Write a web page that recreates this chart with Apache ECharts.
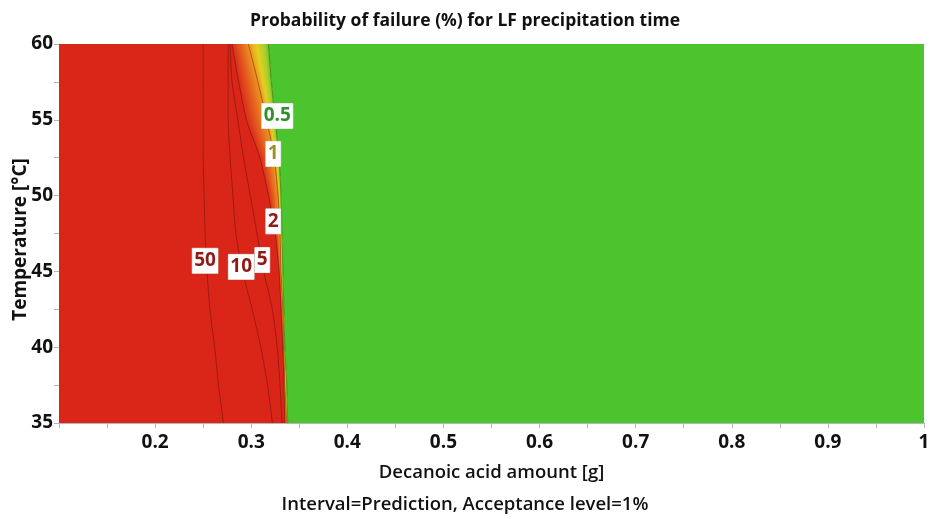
<!DOCTYPE html>
<html>
<head>
<meta charset="utf-8">
<script src="https://cdn.jsdelivr.net/npm/echarts@6/dist/echarts.min.js"></script>
<style>
html, body { margin: 0; padding: 0; background: #ffffff; }
#chart { width: 930px; height: 519px; }
</style>
</head>
<body>
<div id="chart"></div>
<script>
// Temperatures (°C) at which each contour of the failure probability is traced
const temperatures = [35, 37.5, 40, 42.5, 45, 47.5, 50, 52.5, 55, 57.5, 60];

// Decanoic acid amount (g) where the probability of failure equals each level
const contour50 = [0.271, 0.266, 0.262, 0.257, 0.254, 0.252, 0.251, 0.250, 0.250, 0.250, 0.250];
const contour10 = [0.322, 0.317, 0.310, 0.301, 0.291, 0.284, 0.281, 0.278, 0.276, 0.276, 0.276];
const contour5  = [0.332, 0.330, 0.327, 0.322, 0.313, 0.306, 0.299, 0.292, 0.286, 0.280, 0.278];
const contour2  = [0.335, 0.334, 0.333, 0.331, 0.329, 0.325, 0.318, 0.309, 0.295, 0.287, 0.280];
const contour1  = [0.337, 0.335, 0.334, 0.333, 0.331, 0.330, 0.328, 0.324, 0.316, 0.307, 0.297];
const contour05 = [0.338, 0.337, 0.335, 0.334, 0.333, 0.332, 0.331, 0.329, 0.325, 0.321, 0.318];

const levels = [50, 10, 5, 2, 1, 0.5];
const contours = [contour50, contour10, contour5, contour2, contour1, contour05];

// Where each level's value is printed along its contour: [amount, temperature]
const levelLabelAt = [[0.252, 45.7], [0.2896, 45.3], [0.3115, 45.75], [0.3229, 48.3], [0.3229, 52.75], [0.3271, 55.25]];

// Axis ticks
const xTickLabels = [0.2, 0.3, 0.4, 0.5, 0.6, 0.7, 0.8, 0.9, 1];
const yTickLabels = [35, 40, 45, 50, 55, 60];

const X_MIN = 0.1, X_MAX = 1, Y_MIN = 35, Y_MAX = 60;
const FONT = "'Open Sans', 'Noto Sans', sans-serif";

const RED = '#da2619';
const GREEN = '#4cc42e';

// colour ramp used inside a band, t in [0,1]
function rampColor(stops, t) {
  for (let i = 0; i < stops.length - 1; i++) {
    const a = stops[i], b = stops[i + 1];
    if (t <= b[0]) {
      const f = (t - a[0]) / (b[0] - a[0]);
      const c = a[1].map((v, k) => Math.round(v + (b[1][k] - v) * f));
      return 'rgb(' + c.join(',') + ')';
    }
  }
  return 'rgb(' + stops[stops.length - 1][1].join(',') + ')';
}

const RAMP_2_TO_1 = [[0, [218, 45, 27]], [0.5, [228, 95, 31]], [1, [236, 150, 34]]];
const RAMP_1_TO_05 = [[0, [236, 150, 34]], [0.4, [228, 208, 31]], [0.8, [168, 206, 48]], [1, [100, 198, 46]]];

function renderFill(params, api) {
  const children = [];
  const pt = (x, t) => api.coord([x, t]);
  const n = temperatures.length;

  function polygonBetween(leftX, rightX) {
    const pts = [];
    for (let i = 0; i < n; i++) pts.push(pt(leftX(i), temperatures[i]));
    for (let i = n - 1; i >= 0; i--) pts.push(pt(rightX(i), temperatures[i]));
    return pts;
  }

  // high-risk region (>= 2 %)
  children.push({
    type: 'polygon',
    shape: { points: polygonBetween(() => X_MIN, i => contour2[i] + 0.001) },
    style: { fill: RED }
  });
  // acceptable region (< 0.5 %)
  children.push({
    type: 'polygon',
    shape: { points: polygonBetween(i => contour05[i] - 0.001, () => X_MAX) },
    style: { fill: GREEN }
  });

  // shade a band between two contours; each strip reaches the right contour
  // and the next one is painted over it, so no seams show between strips
  function shadeBand(leftArr, rightArr, ramp) {
    const K = 20;
    for (let j = 0; j < K; j++) {
      const f0 = j / K;
      const lx = i => leftArr[i] + (rightArr[i] - leftArr[i]) * f0;
      const rx = i => rightArr[i];
      children.push({
        type: 'polygon',
        shape: { points: polygonBetween(lx, rx) },
        style: { fill: rampColor(ramp, f0 + 0.5 / K) }
      });
    }
  }

  shadeBand(contour2, contour1, RAMP_2_TO_1);
  shadeBand(contour1, contour05, RAMP_1_TO_05);

  return { type: 'group', children: children };
}

const labelColors = ['#8e1b16', '#8e1b16', '#8e1b16', '#8e1b16', '#a0901f', '#2f8f2a'];

function renderLabel(params, api) {
  const k = params.dataIndex;
  const p = api.coord([api.value(0), api.value(1)]);
  return {
    type: 'text',
    x: p[0],
    y: p[1],
    z2: 10,
    style: {
      text: String(levels[k]),
      x: 0,
      y: 0,
      align: 'center',
      verticalAlign: 'middle',
      fill: labelColors[k],
      font: 'bold 19px ' + FONT,
      backgroundColor: '#ffffff',
      borderColor: '#d0d0d0',
      borderWidth: 0.5,
      padding: [4, 2, 2, 2]
    }
  };
}

const lineSeries = contours.map((c, k) => ({
  type: 'line',
  name: 'P = ' + levels[k] + ' %',
  data: temperatures.map((t, i) => [c[i], t]),
  showSymbol: false,
  smooth: 0.2,
  silent: true,
  z: 3,
  lineStyle: {
    width: 1,
    color: levels[k] === 0.5 ? 'rgba(40, 100, 20, 0.55)' : 'rgba(90, 15, 8, 0.45)'
  }
}));

const chart = echarts.init(document.getElementById('chart'), null, { renderer: 'canvas' });
chart.setOption({
  animation: false,
  backgroundColor: '#ffffff',
  title: [
    {
      text: 'Probability of failure (%) for LF precipitation time',
      left: 'center',
      top: 7,
      textStyle: { fontFamily: FONT, fontWeight: 'bold', fontSize: 17.5, color: '#111' }
    },
    {
      text: 'Interval=Prediction, Acceptance level=1%',
      left: 'center',
      bottom: 0,
      textStyle: { fontFamily: FONT, fontWeight: 600, fontSize: 18.5, color: '#111' }
    }
  ],
  grid: { left: 59, right: 6, top: 44, bottom: 96, containLabel: false, outerBoundsMode: 'none' },
  xAxis: {
    type: 'value',
    min: X_MIN,
    max: X_MAX,
    interval: 0.1,
    name: 'Decanoic acid amount [g]',
    nameLocation: 'middle',
    nameGap: 40,
    nameTextStyle: { fontFamily: FONT, fontWeight: 600, fontSize: 18.5, color: '#111' },
    axisLine: { show: true, lineStyle: { color: '#b5b5b5', width: 1 } },
    axisTick: { show: true, length: 5, lineStyle: { color: '#b5b5b5' } },
    minorTick: { show: true, splitNumber: 2, length: 5, lineStyle: { color: '#b5b5b5' } },
    splitLine: { show: false },
    axisLabel: {
      margin: 10,
      fontFamily: FONT,
      fontWeight: 'bold',
      fontSize: 19,
      color: '#111',
      formatter: v => {
        const hit = xTickLabels.find(t => Math.abs(t - v) < 1e-6);
        return hit === undefined ? '' : String(hit);
      }
    }
  },
  yAxis: {
    type: 'value',
    min: Y_MIN,
    max: Y_MAX,
    interval: 5,
    name: 'Temperature [°C]',
    nameLocation: 'middle',
    nameGap: 29,
    nameMoveOverlap: false,
    nameTextStyle: { fontFamily: FONT, fontWeight: 'bold', fontSize: 19, color: '#111', padding: [0, 12, 0, 0] },
    axisLine: { show: true, lineStyle: { color: '#b5b5b5', width: 1 } },
    axisTick: { show: true, length: 5, lineStyle: { color: '#b5b5b5' } },
    minorTick: { show: true, splitNumber: 2, length: 5, lineStyle: { color: '#b5b5b5' } },
    splitLine: { show: false },
    axisLabel: {
      margin: 6,
      fontFamily: FONT,
      fontWeight: 'bold',
      fontSize: 19,
      color: '#111',
      formatter: v => {
        const hit = yTickLabels.find(t => Math.abs(t - v) < 1e-6);
        return hit === undefined ? '' : String(hit);
      }
    }
  },
  series: [
    {
      type: 'custom',
      name: 'probability surface',
      silent: true,
      clip: true,
      z: 1,
      data: [[X_MIN, Y_MIN]],
      encode: { x: 0, y: 1 },
      renderItem: renderFill
    },
    ...lineSeries,
    {
      type: 'custom',
      name: 'level labels',
      silent: true,
      clip: false,
      z: 6,
      data: levelLabelAt,
      encode: { x: 0, y: 1 },
      renderItem: renderLabel
    }
  ]
});
</script>
</body>
</html>
